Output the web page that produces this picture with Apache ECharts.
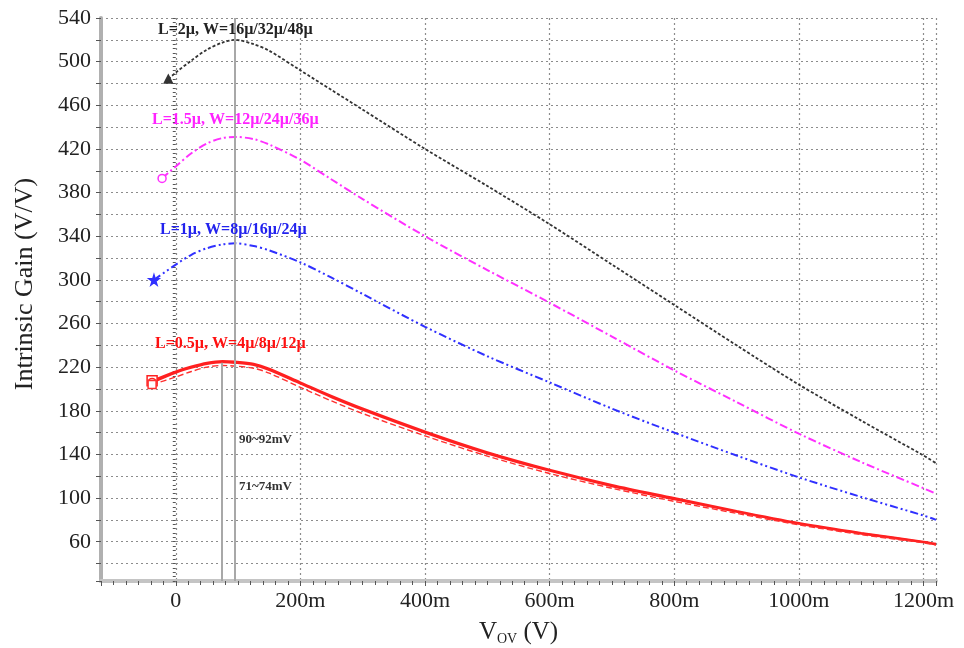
<!DOCTYPE html>
<html>
<head>
<meta charset="utf-8">
<script src="https://cdn.jsdelivr.net/npm/echarts@6/dist/echarts.min.js"></script>
<style>
html,body{margin:0;padding:0;background:#fff;}
#chart{width:964px;height:648px;}
</style>
</head>
<body>
<div id="chart"></div>
<script>
// ---------- data (V_OV in mV, gain in V/V) ----------
const blackX = [-12, 0, 25, 50, 75, 95, 125, 150, 200, 250, 300, 400, 500, 600, 700, 800, 900, 1000, 1100, 1200, 1220];
const blackY = [484, 490, 501, 511, 517.5, 520, 516, 510, 492, 474, 456, 420, 386, 351, 314, 277, 240, 204, 171, 139, 132];

const magX = [-22, 0, 25, 50, 75, 95, 125, 150, 200, 250, 300, 400, 500, 600, 700, 800, 900, 1000, 1100, 1200, 1220];
const magY = [393, 404, 416, 425, 430, 431, 429, 424, 410, 392, 374, 340, 309, 279, 248, 217, 188, 159, 133, 109, 104];

const blueX = [-35, 0, 25, 50, 75, 95, 125, 150, 200, 250, 300, 400, 500, 600, 700, 800, 900, 1000, 1100, 1200, 1220];
const blueY = [300, 314, 323, 329, 332.5, 333.5, 331, 327, 316, 302, 287, 257, 230, 206, 182, 160, 139, 119, 101, 84, 80];

const redX  = [-38, 0, 25, 50, 75, 95, 125, 150, 200, 250, 300, 400, 500, 600, 700, 800, 900, 1000, 1100, 1200, 1220];
const redAY = [207.5, 216, 220.5, 224, 225.5, 225, 223, 218.5, 206, 193.5, 182, 161, 142, 126, 112, 100, 88, 77, 68, 60, 58];
const redBY = [206, 215, 219.5, 223, 224.5, 224, 222, 217.5, 205, 192.5, 181, 160, 141, 125, 111, 99, 87.5, 76.5, 67.5, 59.5, 57.5];
const redCY = [204, 211, 216, 220, 221.5, 221, 219, 214.5, 201.5, 189, 177.5, 157, 138.5, 122.5, 109, 97, 86, 75.5, 66.5, 59, 57];

const curveLabels = ['L=2\u00b5, W=16\u00b5/32\u00b5/48\u00b5', 'L=1.5\u00b5, W=12\u00b5/24\u00b5/36\u00b5', 'L=1\u00b5, W=8\u00b5/16\u00b5/24\u00b5', 'L=0.5\u00b5, W=4\u00b5/8\u00b5/12\u00b5'];
const markerX = [94, 74];           // vertical reference lines (mV)
const markerTop = [540, 224];       // upper end of each reference line (V/V)
const markerLabels = ['90~92mV', '71~74mV'];

const xMin = -120, xMax = 1220, yMin = 24, yMax = 540;

// ---------- chart ----------
const chart = echarts.init(document.getElementById('chart'), null, {renderer: 'canvas'});
const SERIF = '"Liberation Serif", "Times New Roman", serif';
const STAR = 'path://M50,0 L61,35 L98,35 L68,57 L79,91 L50,70 L21,91 L32,57 L2,35 L39,35 Z';

function mk(xs, ys, color, width, type, sym, symSize, hollow, z) {
  const data = xs.map((x, i) => i === 0
    ? {value: [x, ys[i]], symbol: sym, symbolSize: symSize,
       itemStyle: {color: hollow ? '#fff' : color, borderColor: color, borderWidth: 1.5}}
    : [x, ys[i]]);
  return {
    type: 'line', xAxisIndex: 0, yAxisIndex: 0, data: data,
    smooth: 0.3, symbol: 'none', showSymbol: true, showAllSymbol: true,
    lineStyle: {color: color, width: width, type: type},
    itemStyle: {color: color}, z: z || 3, silent: true
  };
}

const series = [
  mk(blackX, blackY, '#333333', 1.8, [3, 2], 'triangle', 8, false),
  mk(magX, magY, '#ff30ff', 2, [8, 3, 2, 3], 'circle', 8, true),
  mk(blueX, blueY, '#3030ff', 2, [8, 3, 2, 3, 2, 3], STAR, 10, false),
  mk(redX, redAY, '#ff2020', 2.2, 'solid', 'rect', 10, true, 4),
  mk(redX, redBY, '#ff2020', 2.2, 'solid', 'circle', 8, true, 4),
  mk(redX, redCY, '#ff3030', 1.4, [6, 3], 'rect', 8, true, 4)
];
// vertical reference lines
series.push({
  type: 'line', xAxisIndex: 0, yAxisIndex: 0, data: [], silent: true,
  markLine: {
    silent: true, symbol: ['none', 'none'], animation: false,
    label: {show: false},
    lineStyle: {color: '#a8a8a8', width: 2, type: 'solid'},
    data: markerX.map((x, i) => [{coord: [x, yMin]}, {coord: [x, markerTop[i]]}])
  },
  z: 2
});

const tickColor = '#555';
const option = {
  animation: false,
  backgroundColor: '#fff',
  grid: {left: 101, right: 28, top: 18, bottom: 67, outerBoundsMode: 'none', containLabel: false},
  xAxis: [{
    type: 'value', min: xMin, max: xMax, splitNumber: 7, position: 'bottom',
    axisLine: {show: true, onZero: false, lineStyle: {color: '#c4c4c4', width: 4}},
    axisTick: {show: true, length: 5, lineStyle: {color: tickColor, width: 1}},
    axisLabel: {
      margin: 9, color: '#222', fontFamily: SERIF, fontSize: 22,
      formatter: v => (v === 0 ? '0' : (v > 0 && v % 200 === 0 ? v + 'm' : ''))
    },
    splitLine: {show: true, lineStyle: {color: '#8c8c8c', width: 1.2, type: [2, 3]}},
    name: '{v|V}{s|OV}{v| (V)}', nameLocation: 'middle', nameGap: 38,
    nameTextStyle: {
      rich: {
        v: {fontFamily: SERIF, fontSize: 25, color: '#222'},
        s: {fontFamily: SERIF, fontSize: 14, color: '#222', verticalAlign: 'bottom', padding: [13, 0, 0, 0]}
      }
    }
  }, {
    type: 'value', min: xMin, max: xMax, interval: 20, position: 'bottom',
    axisLine: {show: false}, axisLabel: {show: false}, splitLine: {show: false},
    axisTick: {show: true, length: 4, lineStyle: {color: tickColor, width: 1}}
  }],
  yAxis: [{
    type: 'value', min: yMin, max: yMax, splitNumber: 26, position: 'left',
    axisLine: {show: true, onZero: false, lineStyle: {color: '#b0b0b0', width: 4}},
    axisTick: {show: true, length: 5, lineStyle: {color: tickColor, width: 1}},
    axisLabel: {
      margin: 10, color: '#222', fontFamily: SERIF, fontSize: 22,
      formatter: v => (v >= 60 && (v - 20) % 40 === 0 ? String(v) : '')
    },
    splitLine: {show: true, lineStyle: {color: '#8c8c8c', width: 1.2, type: [2, 3]}}
  }, {
    type: 'value', min: yMin, max: yMax, interval: 4, position: 'left',
    axisLine: {show: false}, axisLabel: {show: false}, splitLine: {show: false},
    axisTick: {show: true, length: 3, lineStyle: {color: tickColor, width: 1}}
  }],
  series: series,
  graphic: [
    {type: 'text', left: 158, top: 22, z: 10, style: {text: curveLabels[0], font: 'bold 16px ' + SERIF, fill: '#222'}},
    {type: 'text', left: 152, top: 112, z: 10, style: {text: curveLabels[1], font: 'bold 16px ' + SERIF, fill: '#ff22ff'}},
    {type: 'text', left: 160, top: 222, z: 10, style: {text: curveLabels[2], font: 'bold 16px ' + SERIF, fill: '#2222ee'}},
    {type: 'text', left: 155, top: 336, z: 10, style: {text: curveLabels[3], font: 'bold 16px ' + SERIF, fill: '#ff1010'}},
    {type: 'text', left: 239, top: 433, z: 10, style: {text: markerLabels[0], font: 'bold 13px ' + SERIF, fill: '#333'}},
    {type: 'text', left: 239, top: 480, z: 10, style: {text: markerLabels[1], font: 'bold 13px ' + SERIF, fill: '#333'}},
    {type: 'text', x: 25, y: 284, rotation: Math.PI / 2, z: 10,
     style: {text: 'Intrinsic Gain (V/V)', font: '26px ' + SERIF, fill: '#222', align: 'center', verticalAlign: 'middle'}}
  ]
};
chart.setOption(option);
</script>
</body>
</html>
